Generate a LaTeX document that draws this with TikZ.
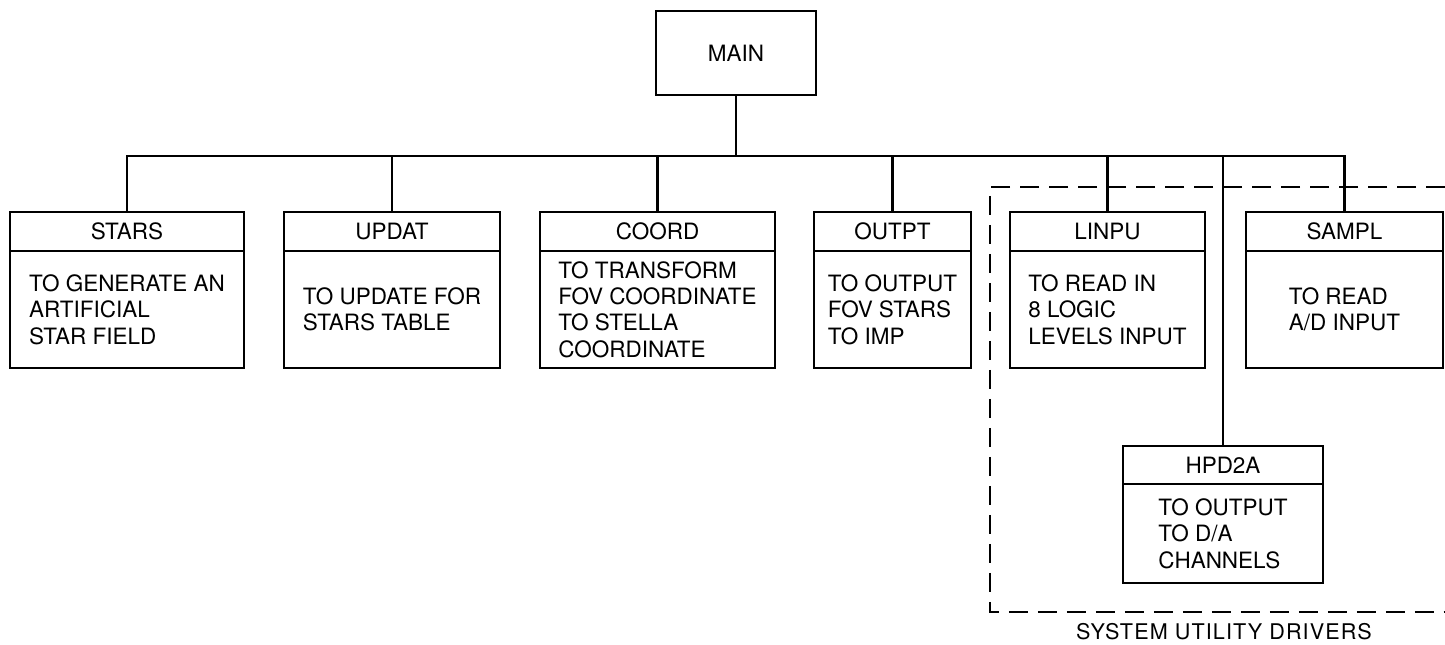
\documentclass[tikz,border=0pt]{standalone}
\usepackage{fontspec}
\setmainfont{TeX Gyre Heros}
\usetikzlibrary{positioning}

\begin{document}
\begin{tikzpicture}[x=0.02cm, y=-0.02cm,
    every node/.style={font=\fontsize{12.8}{15}\selectfont},
    box/.style={draw, line width=1.3pt, outer sep=0pt, inner sep=0pt},
    head/.style={box, minimum width=#1, minimum height=0.78cm},
    desc/.style={box, minimum width=#1, minimum height=2.34cm, align=left},
    link/.style={line width=1.6pt},
    frame/.style={line width=1.2pt, dash pattern=on 0.38cm off 0.2cm}]

    \useasboundingbox (0,0) rectangle (1445,645);

    \node[box, minimum width=3.2cm, minimum height=1.68cm] (main) at (736,53) {MAIN};
    \coordinate (bus) at (736,156);

    % modules
    \node[head=4.68cm] (stars) at (127,231.5) {STARS};
    \node[desc=4.68cm, below=0pt of stars] (stars-txt) {TO GENERATE AN\\ARTIFICIAL\\STAR FIELD};

    \node[head=4.32cm] (updat) at (392,231.5) {UPDAT};
    \node[desc=4.32cm, below=0pt of updat] (updat-txt) {TO UPDATE FOR\\STARS TABLE};

    \node[head=4.7cm] (coord) at (657.5,231.5) {COORD};
    \node[desc=4.7cm, below=0pt of coord] (coord-txt) {TO TRANSFORM\\FOV COORDINATE\\TO STELLA\\COORDINATE};

    \node[head=3.14cm] (outpt) at (892.5,231.5) {OUTPT};
    \node[desc=3.14cm, below=0pt of outpt] (outpt-txt) {TO OUTPUT\\FOV STARS\\TO IMP};

    % drivers
    \node[head=3.9cm] (linpu) at (1107.5,231.5) {LINPU};
    \node[desc=3.9cm, below=0pt of linpu] (linpu-txt) {TO READ IN\\8 LOGIC\\LEVELS INPUT};

    \node[head=3.94cm] (sampl) at (1344.5,231.5) {SAMPL};
    \node[desc=3.94cm, below=0pt of sampl] (sampl-txt) {TO READ\\A/D INPUT};

    \node[head=4cm, minimum height=0.76cm] (hpd2a) at (1223,465) {HPD2A};
    \node[desc=4cm, minimum height=1.98cm, below=0pt of hpd2a] (hpd2a-txt) {TO OUTPUT\\TO D/A\\CHANNELS};

    \draw[link] (main.south) -- (bus);
    \foreach \n in {stars,updat,coord,outpt,linpu,hpd2a,sampl}
        \draw[link] (bus) -| (\n.north);

    \draw[frame] (1445,187) -| (990,612) -- (1445,612);
    \node[anchor=base, font=\fontsize{12.3}{14}\selectfont\addfontfeature{LetterSpace=5}] (sud) at (1224,639) {SYSTEM UTILITY DRIVERS};

\end{tikzpicture}
\end{document}
